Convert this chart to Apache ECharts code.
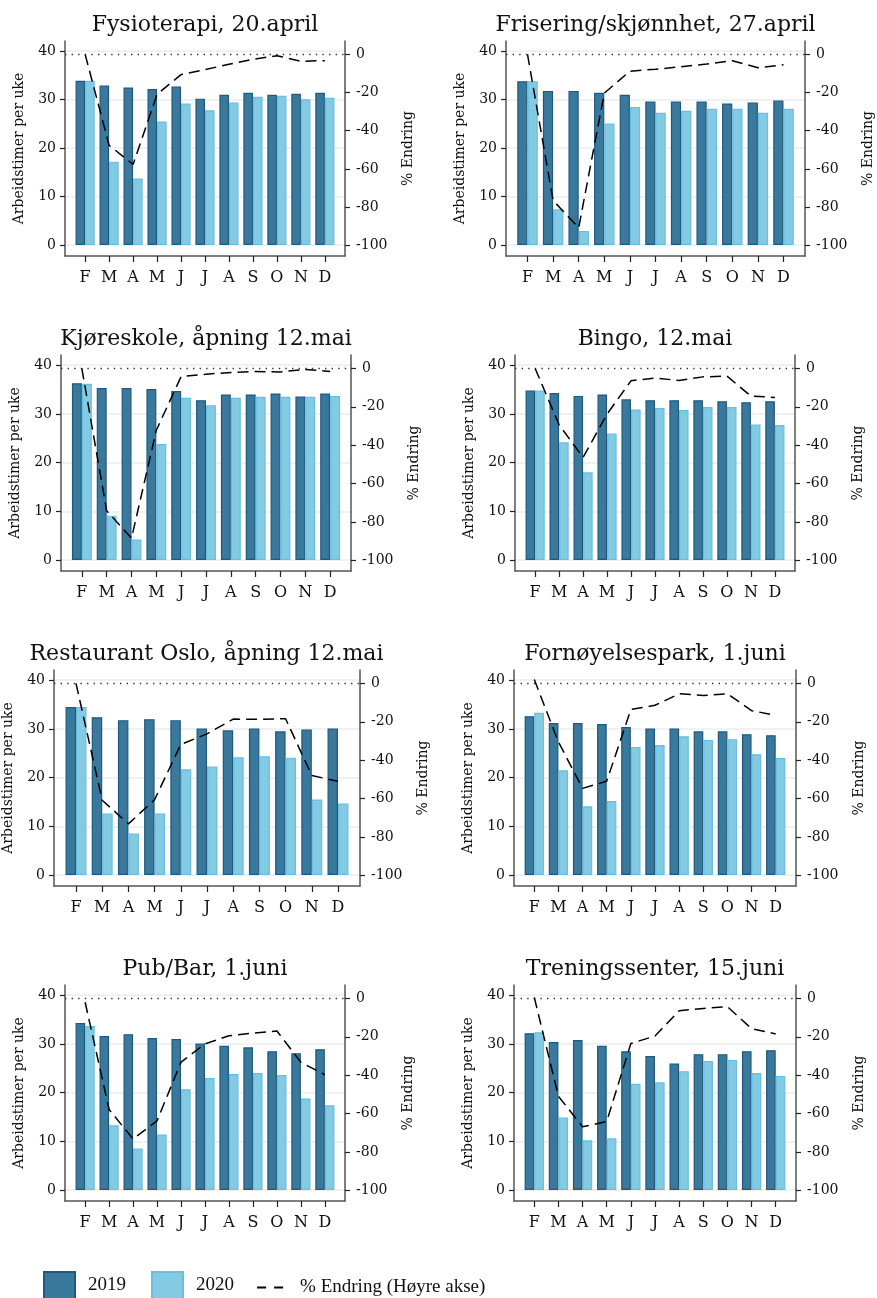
<!DOCTYPE html>
<html>
<head>
<meta charset="utf-8">
<script src="https://cdn.jsdelivr.net/npm/echarts@6/dist/echarts.min.js"></script>
<style>
  html, body { margin: 0; padding: 0; background: #ffffff; }
  #chart { width: 877px; height: 1298px; }
</style>
</head>
<body>
<div id="chart"></div>
<script>
// Months February–December, shown as initials on the x axis
const months = ['F', 'M', 'A', 'M', 'J', 'J', 'A', 'S', 'O', 'N', 'D'];

const titles = [
  'Fysioterapi, 20.april',
  'Frisering/skjønnhet, 27.april',
  'Kjøreskole, åpning 12.mai',
  'Bingo, 12.mai',
  'Restaurant Oslo, åpning 12.mai',
  'Fornøyelsespark, 1.juni',
  'Pub/Bar, 1.juni',
  'Treningssenter, 15.juni'
];

const hoursTicks = [0, 10, 20, 30, 40];
const pctTicks = [-100, -80, -60, -40, -20, 0];

// Working hours per week (2019, 2020) and % change, per industry
const fysio2019 = [33.9, 32.9, 32.5, 32.2, 32.7, 30.2, 31.0, 31.4, 31.0, 31.2, 31.4];
const fysio2020 = [33.9, 17.2, 13.7, 25.5, 29.2, 27.8, 29.4, 30.6, 30.8, 30.1, 30.4];
const fysioPct  = [0, -47.6, -57.7, -20.9, -10.6, -8.0, -5.2, -2.6, -0.7, -3.6, -3.3];

const fris2019 = [33.8, 31.8, 31.8, 31.4, 31.0, 29.6, 29.6, 29.6, 29.2, 29.4, 29.8];
const fris2020 = [33.8, 7.4, 2.9, 25.1, 28.5, 27.3, 27.7, 28.1, 28.1, 27.3, 28.1];
const frisPct  = [0, -76.5, -90.8, -20.3, -8.8, -7.8, -6.5, -5.1, -3.3, -7.0, -5.5];

const kjore2019 = [36.3, 35.3, 35.3, 35.1, 34.7, 32.8, 34.0, 34.0, 34.2, 33.6, 34.2];
const kjore2020 = [36.2, 9.1, 4.2, 23.8, 33.3, 31.8, 33.3, 33.5, 33.5, 33.5, 33.7];
const kjorePct  = [0, -74.2, -88.5, -32.2, -4.2, -3.0, -2.1, -1.6, -1.8, -0.5, -1.6];

const bingo2019 = [34.8, 34.3, 33.7, 34.0, 33.0, 32.8, 32.8, 32.8, 32.6, 32.4, 32.6];
const bingo2020 = [34.8, 24.2, 18.0, 26.0, 30.9, 31.2, 30.8, 31.4, 31.4, 27.8, 27.7];
const bingoPct  = [0, -29.4, -46.4, -23.8, -6.4, -5.0, -6.3, -4.4, -4.0, -14.4, -15.1];

const resto2019 = [34.5, 32.4, 31.8, 32.0, 31.8, 30.1, 29.7, 30.1, 29.5, 29.9, 30.1];
const resto2020 = [34.5, 12.6, 8.5, 12.6, 21.7, 22.3, 24.2, 24.4, 24.1, 15.5, 14.7];
const restoPct  = [0, -60.9, -73.2, -60.6, -31.8, -26.3, -18.6, -18.7, -18.4, -48.0, -51.0];

const park2019 = [32.6, 31.2, 31.2, 31.0, 30.4, 30.1, 30.1, 29.5, 29.5, 28.9, 28.7];
const park2020 = [33.3, 21.5, 14.1, 15.2, 26.3, 26.7, 28.5, 27.7, 27.9, 24.8, 24.0];
const parkPct  = [2.0, -30.5, -54.7, -51.0, -13.6, -11.4, -5.4, -6.3, -5.4, -14.2, -16.6];

const pub2019 = [34.3, 31.6, 32.0, 31.2, 31.0, 30.1, 29.6, 29.3, 28.5, 28.1, 28.9];
const pub2020 = [33.7, 13.3, 8.5, 11.4, 20.7, 23.0, 23.8, 24.0, 23.6, 18.8, 17.4];
const pubPct  = [-2.0, -57.9, -73.3, -63.8, -33.2, -23.7, -19.5, -18.1, -17.0, -33.3, -39.8];

const tren2019 = [32.2, 30.4, 30.8, 29.6, 28.5, 27.5, 26.0, 27.9, 27.9, 28.5, 28.7];
const tren2020 = [32.4, 14.9, 10.2, 10.6, 21.8, 22.1, 24.4, 26.5, 26.7, 24.0, 23.4];
const trenPct  = [0.5, -51.0, -66.9, -64.2, -23.5, -19.6, -6.4, -5.2, -4.3, -15.8, -18.5];

const panels = [
  { title: titles[0], y2019: fysio2019, y2020: fysio2020, pct: fysioPct },
  { title: titles[1], y2019: fris2019,  y2020: fris2020,  pct: frisPct },
  { title: titles[2], y2019: kjore2019, y2020: kjore2020, pct: kjorePct },
  { title: titles[3], y2019: bingo2019, y2020: bingo2020, pct: bingoPct },
  { title: titles[4], y2019: resto2019, y2020: resto2020, pct: restoPct },
  { title: titles[5], y2019: park2019,  y2020: park2020,  pct: parkPct },
  { title: titles[6], y2019: pub2019,   y2020: pub2020,   pct: pubPct },
  { title: titles[7], y2019: tren2019,  y2020: tren2020,  pct: trenPct }
];

// Plot frames (left, right, top, bottom) for the 4x2 panel grid
const frames = [
  [65, 345, 41, 256], [506, 805, 41, 256],
  [61, 351, 355, 571], [515, 795, 355, 571],
  [53, 360, 670, 886], [514, 796, 670, 886],
  [65, 345, 985, 1201], [514, 796, 985, 1201]
];

const FONT = 'DejaVu Serif';
const AXIS_COLOR = '#555555';
const DARK = '#3a799b', DARK_EDGE = '#1c5a80';
const LIGHT = '#82cbe3', LIGHT_EDGE = '#67bedf';

const grid = [], xAxis = [], yAxis = [], series = [], title = [];
const monthIndex = months.map(function (m, k) { return k; });

panels.forEach(function (p, i) {
  const f = frames[i];
  grid.push({ left: f[0], top: f[2], width: f[1] - f[0], height: f[3] - f[2], containLabel: false });
  title.push({
    text: p.title, left: (f[0] + f[1]) / 2, top: f[2] - 27, textAlign: 'center', padding: 0,
    textStyle: { fontFamily: FONT, fontSize: 22, fontWeight: 'normal', color: '#111' }
  });
  xAxis.push({
    type: 'value', gridIndex: i, min: -0.84, max: 10.84, position: 'bottom',
    axisLine: { show: true, onZero: false, lineStyle: { color: AXIS_COLOR, width: 1.5 } },
    axisTick: { show: true, customValues: monthIndex, length: 6, lineStyle: { color: '#222', width: 1.2 } },
    axisLabel: {
      customValues: monthIndex,
      formatter: function (v) { return months[Math.round(v)]; },
      fontFamily: FONT, fontSize: 16, color: '#111', margin: 14
    },
    splitLine: { show: false }
  });
  yAxis.push({
    type: 'value', gridIndex: i, position: 'left', min: -2.27, max: 42.1,
    name: 'Arbeidstimer per uke', nameLocation: 'middle', nameRotate: 90, nameGap: 39,
    nameTextStyle: { fontFamily: FONT, fontSize: 14, color: '#111' },
    axisLine: { show: true, onZero: false, lineStyle: { color: AXIS_COLOR, width: 1.5 } },
    axisTick: { show: true, customValues: hoursTicks, length: 5, lineStyle: { color: '#222', width: 1.2 } },
    axisLabel: { customValues: hoursTicks, fontFamily: FONT, fontSize: 14, color: '#111', margin: 9 },
    splitLine: { show: true, lineStyle: { color: '#ececec', width: 1.5 } }
  });
  yAxis.push({
    type: 'value', gridIndex: i, position: 'right', min: -105.6, max: 7.0,
    name: '% Endring', nameLocation: 'middle', nameRotate: 90, nameGap: 56,
    nameTextStyle: { fontFamily: FONT, fontSize: 14, color: '#111' },
    axisLine: { show: true, onZero: false, lineStyle: { color: AXIS_COLOR, width: 1.5 } },
    axisTick: { show: true, customValues: pctTicks, length: 5, lineStyle: { color: '#222', width: 1.2 } },
    axisLabel: { customValues: pctTicks, fontFamily: FONT, fontSize: 14, color: '#111', margin: 11 },
    splitLine: { show: false }
  });
  series.push({
    name: '2019', type: 'bar', xAxisIndex: i, yAxisIndex: 2 * i,
    barWidth: '40%', barGap: '0%',
    itemStyle: { color: DARK, borderColor: DARK_EDGE, borderWidth: 1.2 },
    data: p.y2019.map(function (v, k) { return [k, v]; }), z: 2
  });
  series.push({
    name: '2020', type: 'bar', xAxisIndex: i, yAxisIndex: 2 * i,
    barWidth: '40%', barGap: '0%',
    itemStyle: { color: LIGHT, borderColor: LIGHT_EDGE, borderWidth: 1.2 },
    data: p.y2020.map(function (v, k) { return [k, v]; }), z: 2
  });
  series.push({
    name: '% Endring (Høyre akse)', type: 'line', xAxisIndex: i, yAxisIndex: 2 * i + 1,
    symbol: 'none', z: 5,
    itemStyle: { color: '#000' },
    lineStyle: { color: '#000', width: 1.5, type: [11, 6] },
    data: p.pct.map(function (v, k) { return [k, v]; }),
    markLine: {
      silent: true, symbol: 'none', label: { show: false },
      lineStyle: { color: '#333', width: 1.4, type: [1.4, 5.2] },
      data: [{ yAxis: 0 }]
    }
  });
});

const chart = echarts.init(document.getElementById('chart'), null, { renderer: 'canvas' });
chart.setOption({
  backgroundColor: '#ffffff',
  animation: false,
  title: title,
  grid: grid,
  xAxis: xAxis,
  yAxis: yAxis,
  legend: [
    {
      data: ['2019', '2020'], left: 43, top: 1271, padding: 0, orient: 'horizontal',
      itemWidth: 31, itemHeight: 27, itemGap: 25, icon: 'rect',
      textStyle: { fontFamily: 'Liberation Serif', fontSize: 19, color: '#111', padding: [3, 0, 0, 8] }
    },
    {
      data: ['% Endring (Høyre akse)'], left: 256, top: 1278, padding: 0, orient: 'horizontal',
      itemWidth: 27, itemHeight: 14,
      itemStyle: { opacity: 0 },
      lineStyle: { width: 2.2, type: [9, 8] },
      textStyle: { fontFamily: 'Liberation Serif', fontSize: 19, color: '#111', padding: [3, 0, 0, 11] }
    }
  ],
  series: series
});
</script>
</body>
</html>
